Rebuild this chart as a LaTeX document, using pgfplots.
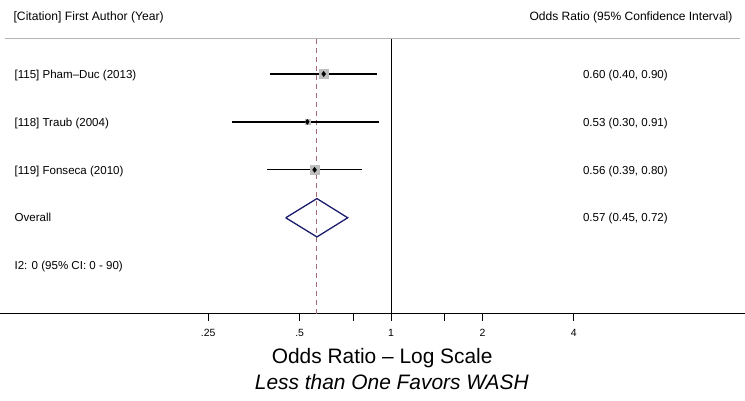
\documentclass[border=0pt]{standalone}
\usepackage{pgfplots}
\pgfplotsset{compat=1.18}
\usepackage{fontspec}
\setmainfont{Liberation Sans}
\definecolor{navyd}{RGB}{28,28,108}
\definecolor{refred}{RGB}{160,105,115}
\definecolor{boxgray}{RGB}{190,190,190}
\definecolor{hdrgray}{RGB}{180,180,180}
\begin{document}
\begin{tikzpicture}
\begin{axis}[
  name=ax,
  scale only axis,
  width=745bp, height=276bp,
  xmode=log,
  xmin=0.0517, xmax=14.6,
  ymin=0, ymax=5.75,
  axis x line*=bottom,
  hide y axis,
  axis line style={-, black, line width=0.8pt},
  xtick={0.25,0.5,0.75,1,1.5,2,4},
  xticklabels={.25,.5,,1,,2,4},
  tick align=outside,
  major tick length=7bp,
  tick style={black, line width=0.8pt},
  xticklabel style={font=\fontsize{10.5}{12}\selectfont, yshift=-5bp},
  /pgf/number format/assume math mode=true,
  clip=false,
]
% reference lines
\addplot[black, line width=0.9pt] coordinates {(1,0) (1,5.75)};
\addplot[refred, line width=0.9pt, dash pattern=on 5bp off 4bp] coordinates {(0.57,0) (0.57,5.75)};
\addplot[hdrgray, line width=0.9pt] coordinates {(0.0537,5.75) (14.07,5.75)};
% confidence intervals
\addplot[black, line width=1.3pt] coordinates {(0.40,5) (0.90,5)};
\addplot[black, line width=1.3pt] coordinates {(0.30,4) (0.91,4)};
\addplot[black, line width=1.3pt] coordinates {(0.39,3) (0.80,3)};
% weight boxes
\addplot[only marks, mark=square*, mark size=4.5bp, boxgray, mark options={draw=boxgray, fill=boxgray}] coordinates {(0.60,5)};
\addplot[only marks, mark=square*, mark size=2.6bp, boxgray, mark options={draw=boxgray, fill=boxgray}] coordinates {(0.53,4)};
\addplot[only marks, mark=square*, mark size=4.8bp, boxgray, mark options={draw=boxgray, fill=boxgray}] coordinates {(0.56,3)};
% point estimates
\addplot[only marks, mark=diamond*, mark size=2.6bp, black] coordinates {(0.60,5) (0.53,4) (0.56,3)};
% overall diamond
\addplot[navyd, line width=1.3pt] coordinates {(0.45,2) (0.57,2.40) (0.72,2) (0.57,1.60) (0.45,2)};
% texts
\begin{scope}[every node/.style={font=\fontsize{11.6}{13}\selectfont, inner sep=0pt, anchor=base west, yshift=-4.2bp}]
\node[font=\fontsize{12.2}{14}\selectfont] at ({rel axis cs:0.0175,0} |- {axis cs:1,6.208}) {[Citation] First Author (Year)};
\node[font=\fontsize{12.1}{14}\selectfont, anchor=base east] at ({rel axis cs:0.9839,0} |- {axis cs:1,6.208}) {Odds Ratio (95\% Confidence Interval)};
\node at ({rel axis cs:0.0188,0} |- {axis cs:1,5}) {[115] Pham--Duc (2013)};
\node at ({rel axis cs:0.0188,0} |- {axis cs:1,4}) {[118] Traub (2004)};
\node at ({rel axis cs:0.0188,0} |- {axis cs:1,3}) {[119] Fonseca (2010)};
\node at ({rel axis cs:0.0188,0} |- {axis cs:1,2}) {Overall};
\node at ({rel axis cs:0.0188,0} |- {axis cs:1,1}) {I2: 0 (95\% CI: 0 - 90)};
\node at ({rel axis cs:0.7826,0} |- {axis cs:1,5}) {0.60 (0.40, 0.90)};
\node at ({rel axis cs:0.7826,0} |- {axis cs:1,4}) {0.53 (0.30, 0.91)};
\node at ({rel axis cs:0.7826,0} |- {axis cs:1,3}) {0.56 (0.39, 0.80)};
\node at ({rel axis cs:0.7826,0} |- {axis cs:1,2}) {0.57 (0.45, 0.72)};
\end{scope}
\node[font=\fontsize{21}{24}\selectfont, inner sep=0pt] at ({rel axis cs:0.513,0} |- {axis cs:1,-0.92}) {Odds Ratio -- Log Scale};
\node[font=\fontsize{21}{24}\selectfont\itshape, inner sep=0pt] at ({rel axis cs:0.526,0} |- {axis cs:1,-1.417}) {Less than One Favors WASH};
\end{axis}
\path (ax.south west) ++(0,-87bp) rectangle ([yshift=38bp]ax.north east);
\end{tikzpicture}
\end{document}
